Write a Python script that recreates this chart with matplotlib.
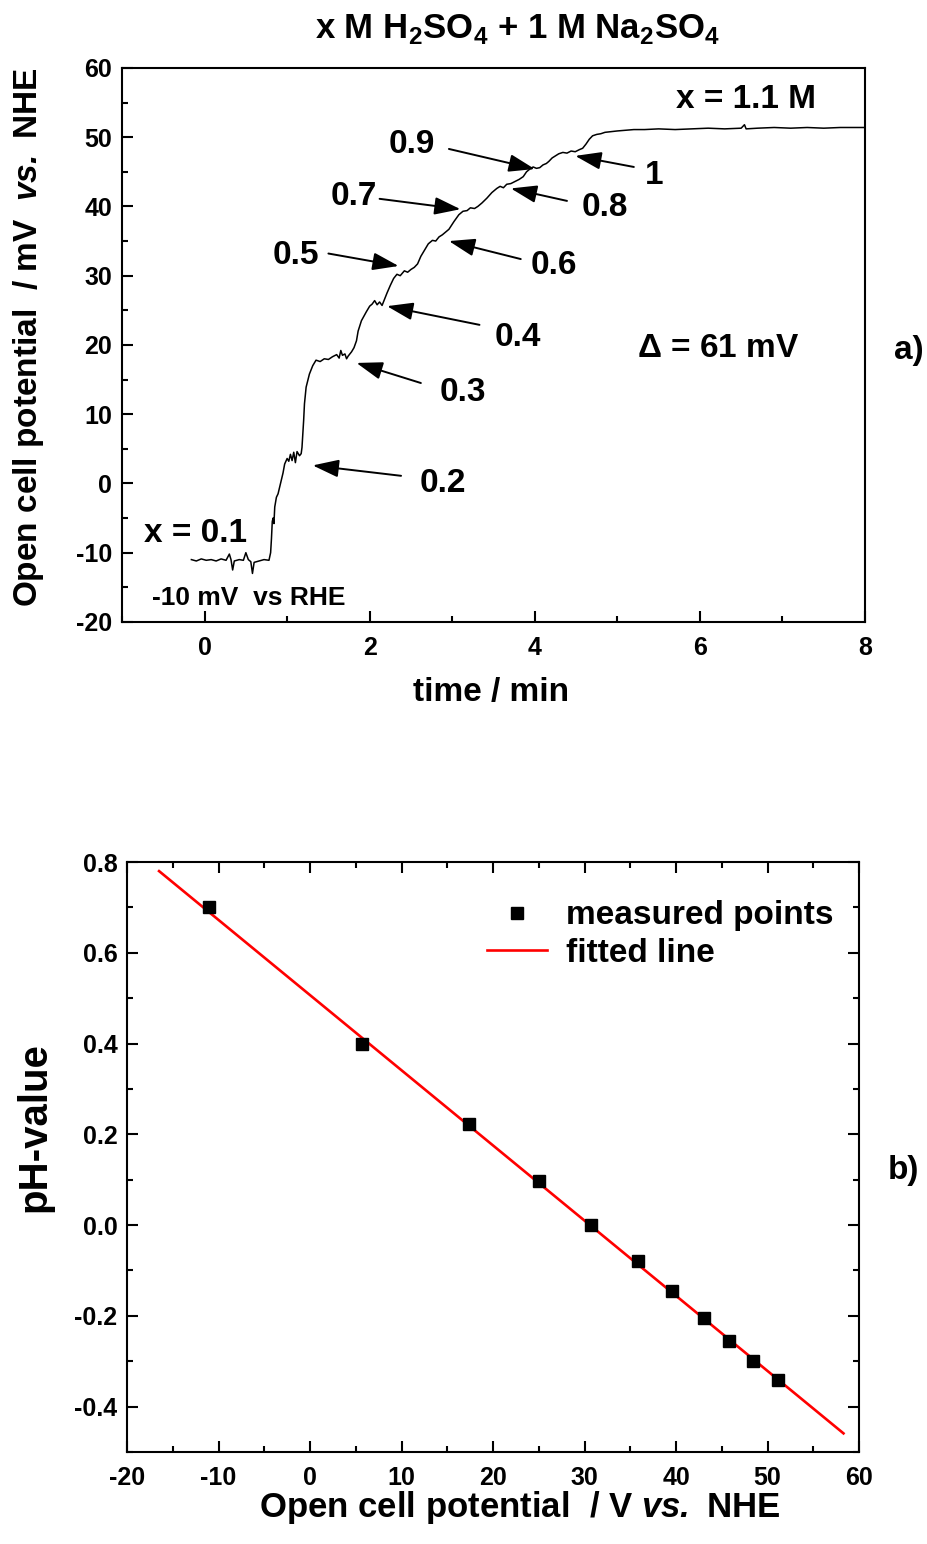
"""Open cell potential trace (x M H2SO4 + 1 M Na2SO4) and pH calibration line."""

import matplotlib
matplotlib.use("Agg")
import matplotlib.pyplot as plt
from matplotlib.ticker import MultipleLocator

FONT = "Liberation Sans"
plt.rcParams.update({
    "font.family": [FONT, "DejaVu Sans"],
    "font.weight": "bold",
    "axes.unicode_minus": False,
    "mathtext.fontset": "custom",
    "mathtext.rm": FONT,
    "mathtext.bf": FONT + ":bold",
    "mathtext.bfit": FONT + ":italic:bold",
})

# --- panel a: potential trace (time / min, mV vs NHE)
time_min = [
    -0.16, -0.10, -0.04, 0.02, 0.08, 0.14, 0.20, 0.26, 0.30, 0.32, 0.34, 0.36,
    0.42, 0.47, 0.50, 0.53, 0.56, 0.58, 0.60, 0.66, 0.72, 0.78, 0.80, 0.81,
    0.82, 0.83, 0.84, 0.85, 0.87, 0.89, 0.92, 0.95, 0.97, 1.00, 1.02, 1.04,
    1.06, 1.08, 1.10, 1.12, 1.15, 1.17, 1.18, 1.20, 1.21, 1.23, 1.27, 1.31,
    1.35, 1.40, 1.45, 1.50, 1.55, 1.60, 1.63, 1.65, 1.67, 1.70, 1.72, 1.74,
    1.78, 1.81, 1.84, 1.86, 1.90, 1.96, 2.00, 2.03, 2.06, 2.09, 2.12, 2.15,
    2.18, 2.21, 2.25, 2.29, 2.33, 2.37, 2.42, 2.46, 2.50, 2.54, 2.58, 2.62,
    2.67, 2.71, 2.76, 2.80, 2.84, 2.88, 2.92, 2.96, 3.02, 3.08, 3.13, 3.18,
    3.22, 3.27, 3.31, 3.36, 3.42, 3.48, 3.54, 3.58, 3.62, 3.66, 3.71, 3.76,
    3.81, 3.86, 3.90, 3.94, 3.98, 4.02, 4.06, 4.10, 4.14, 4.17, 4.21, 4.25,
    4.29, 4.34, 4.39, 4.44, 4.49, 4.54, 4.58, 4.62, 4.66, 4.70, 4.75, 4.80,
    4.85, 4.92, 5.00, 5.10, 5.20, 5.33, 5.50, 5.70, 5.90, 6.10, 6.30, 6.50,
    6.54, 6.56, 6.70, 6.90, 7.10, 7.30, 7.50, 7.70, 8.00,
]
potential_mv = [
    -11.0, -11.2, -10.9, -11.1, -11.0, -11.2, -10.9, -11.1, -10.2, -11.0, -12.5, -11.2,
    -11.0, -11.1, -10.0, -11.0, -11.3, -13.0, -11.4, -11.2, -11.0, -11.1, -10.0, -8.0,
    -5.5, -5.0, -5.8, -3.4, -2.0, -1.5, 0.0, 1.5, 2.8, 3.6, 3.2, 4.2,
    3.3, 4.5, 3.0, 4.6, 4.0, 4.3, 5.2, 9.1, 11.5, 13.9, 15.8, 17.0,
    17.8, 17.6, 18.0, 17.9, 18.3, 18.6, 18.1, 19.2, 18.5, 18.7, 18.0, 18.4,
    19.0, 19.6, 20.6, 22.0, 23.5, 24.8, 25.6, 25.9, 26.4, 25.8, 26.2, 25.7,
    26.6, 27.5, 28.6, 29.6, 30.2, 30.0, 30.7, 30.5, 30.9, 31.2, 31.7, 32.8,
    33.8, 34.6, 35.1, 35.0, 35.6, 35.9, 36.3, 36.7, 37.8, 38.8, 39.3, 39.4,
    39.8, 39.7, 40.0, 40.5, 41.2, 42.0, 42.6, 42.9, 42.7, 43.2, 43.3, 43.6,
    43.9, 44.3, 45.0, 45.4, 45.7, 45.5, 45.6, 46.0, 46.2, 46.5, 47.0, 47.3,
    47.6, 47.8, 47.7, 48.0, 47.9, 48.2, 48.4, 49.0, 49.7, 50.2, 50.4, 50.5,
    50.7, 50.8, 50.9, 51.0, 51.1, 51.1, 51.2, 51.1, 51.2, 51.3, 51.2, 51.3,
    51.8, 51.2, 51.3, 51.4, 51.3, 51.4, 51.3, 51.4, 51.4,
]

# concentration labels: text position, arrow tail, arrow tip (time, mV)
conc_labels = ["0.2", "0.3", "0.4", "0.5", "0.6", "0.7", "0.8", "0.9", "1"]
label_xy = [(2.89, 0.0), (3.13, 13.2), (3.80, 21.1), (1.11, 32.9), (4.23, 31.4),
            (1.81, 41.4), (4.85, 39.8), (2.51, 49.0), (5.45, 44.5)]
tail_xy = [(2.38, 1.1), (2.62, 14.5), (3.33, 22.9), (1.50, 33.2), (3.83, 32.4),
           (2.12, 41.1), (4.39, 40.8), (2.96, 48.3), (5.20, 45.7)]
tip_xy = [(1.31, 2.6), (1.84, 17.4), (2.21, 25.6), (2.35, 31.4), (2.96, 35.0),
          (3.10, 39.6), (3.71, 42.6), (4.00, 45.4), (4.49, 47.3)]

# --- panel b: pH vs potential
ocp_mv = [-11.0, 5.7, 17.4, 25.0, 30.7, 35.8, 39.6, 43.1, 45.8, 48.4, 51.1]
ph_value = [0.70, 0.40, 0.222, 0.097, 0.0, -0.079, -0.146, -0.204, -0.255, -0.30, -0.342]
fit_x = [-16.5, 58.3]
fit_y = [0.78, -0.459]

TICK_FS = 18
LABEL_FS = 24
NOTE_FS = 24

fig = plt.figure(figsize=(9.28, 15.44), dpi=100)
ax1 = fig.add_axes([0.1315, 0.5972, 0.8006, 0.3588])
ax2 = fig.add_axes([0.1369, 0.0596, 0.7888, 0.3821])

for ax in (ax1, ax2):
    for s in ax.spines.values():
        s.set_linewidth(1.5)
    ax.tick_params(which="both", direction="in", width=1.5, labelsize=TICK_FS)
    ax.tick_params(axis="x", pad=10)
    ax.tick_params(axis="y", pad=7)
    ax.tick_params(which="major", length=8)
    ax.tick_params(which="minor", length=4.5)

# panel a
ax1.plot(time_min, potential_mv, color="black", lw=1.1)
ax1.set_xlim(-1, 8)
ax1.set_ylim(-20, 60)
ax1.xaxis.set_major_locator(MultipleLocator(2))
ax1.xaxis.set_minor_locator(MultipleLocator(1))
ax1.yaxis.set_major_locator(MultipleLocator(10))
ax1.yaxis.set_minor_locator(MultipleLocator(5))
ax1.tick_params(which="both", top=False, right=False)
ax1.set_xlabel("time / min", fontsize=LABEL_FS, fontweight="bold")
ax1.set_ylabel("Open cell potential  / mV  " + r"$\mathbfit{vs.}$" + " NHE",
               fontsize=LABEL_FS, fontweight="bold")
ax1.xaxis.set_label_coords(0.497, -0.099)
ax1.yaxis.set_label_coords(-0.103, 0.515)

fig.text(0.558, 0.981,
         r"x M H$_\mathbf{2}$SO$_\mathbf{4}$ + 1 M Na$_\mathbf{2}$SO$_\mathbf{4}$",
         fontsize=25, fontweight="bold", ha="center", va="center")

for lab, txy, a, b in zip(conc_labels, label_xy, tail_xy, tip_xy):
    ax1.text(txy[0], txy[1], lab, fontsize=NOTE_FS, fontweight="bold",
             ha="center", va="center")
    ax1.annotate("", xy=b, xytext=a,
                 arrowprops=dict(arrowstyle="-|>,head_length=1.0,head_width=0.34",
                                 mutation_scale=16, color="black", lw=1.4,
                                 shrinkA=0, shrinkB=0))

ax1.text(6.56, 55.4, "x = 1.1 M", fontsize=NOTE_FS, fontweight="bold", ha="center", va="center")
ax1.text(6.22, 19.5, r"$\Delta$ = 61 mV", fontsize=NOTE_FS, fontweight="bold", ha="center", va="center")
ax1.text(-0.11, -7.3, "x = 0.1", fontsize=NOTE_FS, fontweight="bold", ha="center", va="center")
ax1.text(0.54, -16.6, "-10 mV  vs RHE", fontsize=19, fontweight="bold", ha="center", va="center")

# panel b
ax2.plot(ocp_mv, ph_value, "s", color="black", ms=8, label="measured points", zorder=3)
ax2.plot(fit_x, fit_y, color="red", lw=1.9, label="fitted line", zorder=2)
ax2.set_xlim(-20, 60)
ax2.set_ylim(-0.5, 0.8)
ax2.xaxis.set_major_locator(MultipleLocator(10))
ax2.xaxis.set_minor_locator(MultipleLocator(5))
ax2.yaxis.set_major_locator(MultipleLocator(0.2))
ax2.yaxis.set_minor_locator(MultipleLocator(0.1))
ax2.yaxis.set_major_formatter(plt.FuncFormatter(lambda v, p: f"{v:.1f}"))
ax2.tick_params(which="both", top=True, right=True)
ax2.set_xlabel("Open cell potential  / V " + r"$\mathbfit{vs.}$" + " NHE",
               fontsize=LABEL_FS + 1, fontweight="bold")
ax2.set_ylabel("pH-value", fontsize=29, fontweight="bold")
ax2.xaxis.set_label_coords(0.537, -0.062)
ax2.yaxis.set_label_coords(-0.100, 0.551)
leg = ax2.legend(loc="upper left", bbox_to_anchor=(0.492, 0.935), frameon=False,
                 fontsize=NOTE_FS, handlelength=1.8, handletextpad=0.55,
                 labelspacing=0.2, borderpad=0, borderaxespad=0)
for t in leg.get_texts():
    t.set_fontweight("bold")

for lab in ax1.get_xticklabels() + ax1.get_yticklabels() + ax2.get_xticklabels() + ax2.get_yticklabels():
    lab.set_fontweight("bold")

fig.text(0.979, 0.773, "a)", fontsize=NOTE_FS, fontweight="bold", ha="center", va="center")
fig.text(0.973, 0.242, "b)", fontsize=NOTE_FS, fontweight="bold", ha="center", va="center")

fig.savefig("out.png", dpi=100)
print("[ok] out.png")
